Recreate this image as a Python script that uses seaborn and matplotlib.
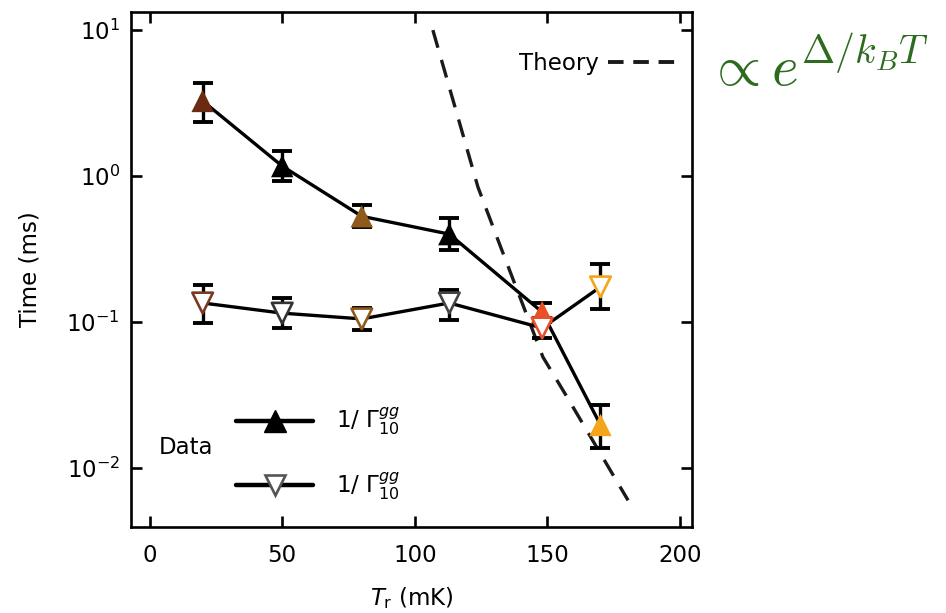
import numpy as np
import pandas as pd
import matplotlib
matplotlib.use("Agg")
import matplotlib.pyplot as plt
import seaborn as sns
from matplotlib.lines import Line2D

# ---- data ----
temps = [20, 50, 80, 113, 148, 170]                       # T_r (mK)
up_time = [3.27, 1.17, 0.53, 0.40, 0.117, 0.0197]          # filled triangles (ms)
up_hi = [4.34, 1.48, 0.63, 0.515, 0.135, 0.027]
up_lo = [2.34, 0.92, 0.448, 0.311, 0.100, 0.0137]
down_time = [0.135, 0.115, 0.105, 0.135, 0.091, 0.174]     # open triangles (ms)
down_hi = [0.179, 0.146, 0.125, 0.166, 0.107, 0.249]
down_lo = [0.098, 0.091, 0.088, 0.103, 0.078, 0.123]
theory_T = [106.8, 115.8, 123.8, 132.8, 148.3, 157.4, 178.5, 180.4]
theory_time = [10.0, 2.7, 0.84, 0.311, 0.0575, 0.0306, 0.00686, 0.0060]
x_ticks = [0, 50, 100, 150, 200]
y_ticks = [1e-2, 1e-1, 1e0, 1e1]

# styles (per point colours)
up_colors = ["#6b2a12", "#000000", "#8f5a1c", "#000000", "#e8502a", "#f5a51c"]
down_edges = ["#7a3a20", "#333333", "#8f5a1c", "#444444", "#e8502a", "#f5a51c"]

sns.set_theme(style="ticks")
plt.rcParams["font.family"] = ["DejaVu Sans"]
plt.rcParams["mathtext.fontset"] = "dejavusans"
plt.rcParams["text.color"] = "black"
plt.rcParams["axes.labelcolor"] = "black"
plt.rcParams["legend.labelcolor"] = "black"

FS = 16.5

fig = plt.figure(figsize=(9.46, 6.13), dpi=100)
ax = fig.add_axes([0.1385, 0.1403, 0.7315 - 0.1385, 0.9804 - 0.1403])

up_df = pd.DataFrame({"T": temps, "t": up_time, "hi": up_hi, "lo": up_lo,
                      "k": [str(i) for i in range(len(temps))]})
dn_df = pd.DataFrame({"T": temps, "t": down_time, "hi": down_hi, "lo": down_lo,
                      "k": [str(i) for i in range(len(temps))]})

# theory curve
sns.lineplot(x=theory_T, y=theory_time, ax=ax, color="#1a1a1a", lw=2.4,
             linestyle=(0, (5.5, 3.8)), zorder=2)

# connecting lines
sns.lineplot(data=up_df, x="T", y="t", ax=ax, color="black", lw=2.4, zorder=2,
             sort=False)
sns.lineplot(data=dn_df, x="T", y="t", ax=ax, color="black", lw=2.4, zorder=2,
             sort=False)

# error bars
for df in (up_df, dn_df):
    ax.errorbar(df["T"], df["t"], yerr=[df["t"] - df["lo"], df["hi"] - df["t"]],
                fmt="none", ecolor="black", elinewidth=2.4, capsize=7.5,
                capthick=2.8, zorder=3)

# markers
sns.scatterplot(data=up_df, x="T", y="t", hue="k",
                palette=dict(zip(up_df["k"], up_colors)), marker="^", s=260,
                edgecolor="none", linewidth=0, legend=False, ax=ax, zorder=4)
sns.scatterplot(data=dn_df, x="T", y="t", hue="k",
                palette=dict(zip(dn_df["k"], down_edges)), marker="v", s=220,
                legend=False, ax=ax, zorder=4)
# open triangles: white fill with coloured edge
coll = ax.collections[-1]
coll.set_edgecolors(down_edges)
coll.set_facecolor("white")
coll.set_linewidth(1.9)

ax.set_yscale("log")
ax.set_xlim(-7, 204.5)
ax.set_ylim(0.00394, 13.3)
ax.set_xticks(x_ticks)
ax.set_yticks(y_ticks)
ax.minorticks_off()
ax.yaxis.set_minor_locator(matplotlib.ticker.NullLocator())

for s in ax.spines.values():
    s.set_linewidth(1.9)
    s.set_color("black")
ax.tick_params(direction="in", length=8, width=1.9, top=True, right=True,
               labelsize=FS, colors="black")
ax.tick_params(axis="x", pad=12)
ax.tick_params(axis="y", pad=8)
ax.set_xlabel(r"$T_\mathrm{r}$ (mK)", fontsize=FS, labelpad=13)
ax.set_ylabel("Time (ms)", fontsize=FS, labelpad=18)

# legends
h_theory = Line2D([], [], color="#1a1a1a", lw=2.8, linestyle=(0, (4, 2.5)))
leg1 = ax.legend([h_theory], ["Theory"], loc="upper right", frameon=False,
                 markerfirst=False, fontsize=FS, handlelength=3.0,
                 handletextpad=0.4, bbox_to_anchor=(0.99, 0.94),
                 borderaxespad=0)
ax.add_artist(leg1)
h_up = Line2D([], [], color="black", lw=3.2, marker="^", markersize=16,
              markerfacecolor="black", markeredgecolor="black")
h_dn = Line2D([], [], color="black", lw=3.2, marker="v", markersize=15,
              markerfacecolor="white", markeredgecolor="#555555",
              markeredgewidth=1.9)
leg2 = ax.legend([h_up, h_dn],
                 [r"1/ $\Gamma_{10}^{gg}$", r"1/ $\Gamma_{10}^{gg}$"],
                 loc="lower left", frameon=False, fontsize=FS,
                 handlelength=3.4, handletextpad=1.0, labelspacing=1.45,
                 bbox_to_anchor=(0.17, 0.031), borderaxespad=0)
ax.text(0.05, 0.155, "Data", transform=ax.transAxes, fontsize=FS,
        ha="left", va="center")

# green annotation outside the axes
fig.text(0.747, 0.888, r"$\propto e^{\Delta/k_BT}$", math_fontfamily="cm",
         fontsize=41, color="#2d6b1f", ha="left", va="center")

fig.savefig("out.png", dpi=100)
